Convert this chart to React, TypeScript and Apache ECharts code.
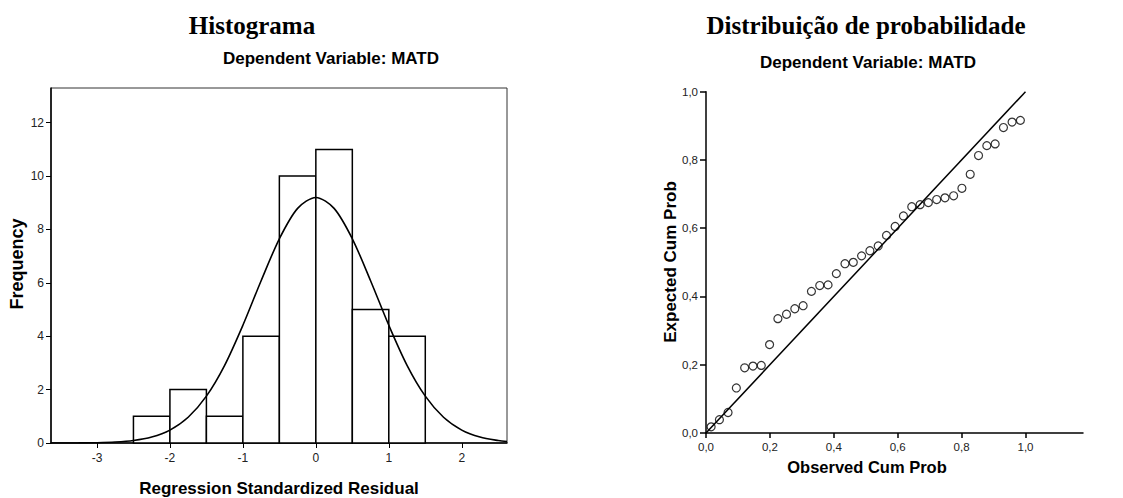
import React, { useEffect, useRef } from "react";
import * as echarts from "echarts";

// ---- Histogram data ----
const binStarts = [-2.5, -2, -1.5, -1, -0.5, 0, 0.5, 1];
const binWidth = 0.5;
const frequencies = [1, 2, 1, 4, 10, 11, 5, 4];
const histXTicks = [-3, -2, -1, 0, 1, 2];
const histYTicks = [0, 2, 4, 6, 8, 10, 12];
// normal curve
const curveX = [-3.63, -3.5, -3.25, -3, -2.75, -2.5, -2.25, -2, -1.75, -1.5, -1.25, -1, -0.75, -0.5, -0.25, 0, 0.25, 0.5, 0.75, 1, 1.25, 1.5, 1.75, 2, 2.25, 2.5, 2.62];
const curveY = [0.0006, 0.001, 0.004, 0.012, 0.035, 0.092, 0.221, 0.484, 0.965, 1.755, 2.91, 4.41, 6.08, 7.65, 8.79, 9.2, 8.79, 7.65, 6.08, 4.41, 2.91, 1.755, 0.965, 0.484, 0.221, 0.092, 0.059];

// ---- P-P plot data ----
const observedCumProb = [0.016, 0.042, 0.069, 0.095, 0.121, 0.147, 0.173, 0.199, 0.225, 0.252, 0.278, 0.304, 0.33, 0.356, 0.382, 0.408, 0.435, 0.461, 0.487, 0.513, 0.539, 0.565, 0.592, 0.618, 0.644, 0.67, 0.696, 0.722, 0.748, 0.775, 0.801, 0.827, 0.853, 0.879, 0.905, 0.931, 0.958, 0.984];
const expectedCumProb = [0.018, 0.039, 0.06, 0.132, 0.191, 0.196, 0.198, 0.259, 0.335, 0.348, 0.364, 0.373, 0.415, 0.432, 0.434, 0.467, 0.496, 0.5, 0.519, 0.534, 0.548, 0.579, 0.605, 0.636, 0.663, 0.669, 0.675, 0.684, 0.689, 0.695, 0.717, 0.758, 0.813, 0.842, 0.847, 0.895, 0.911, 0.916];
const ppTicks = [0, 0.2, 0.4, 0.6, 0.8, 1.0];
const refLine = [[0, 0], [1, 1]];

const SANS = "'Liberation Sans', Arial, sans-serif";
const SERIF = "'Liberation Serif', 'Times New Roman', serif";

export default function App() {
  const ref = useRef<HTMLDivElement>(null);
  useEffect(() => {
    document.body.style.margin = "0";
    const chart = echarts.init(ref.current!, null, { renderer: "svg" });
    const comma = (v: number) => v.toFixed(1).replace(".", ",");
    const axisLineStyle = { color: "#000", width: 1.5 };
    const option: any = {
      animation: false,
      backgroundColor: "#fff",
      grid: [
        { left: 51, top: 88, width: 456, height: 355, show: true, borderColor: "#333", borderWidth: 1, backgroundColor: "transparent" },
        { left: 706, top: 91.7, width: 377, height: 341.3 },
      ],
      xAxis: [
        {
          gridIndex: 0, type: "value", min: -3.63, max: 2.62,
          axisLine: { show: true, onZero: false, lineStyle: axisLineStyle },
          axisTick: { show: true, length: 5, customValues: histXTicks, lineStyle: { color: "#000" } },
          axisLabel: { customValues: histXTicks, fontFamily: SANS, fontSize: 12, color: "#222", margin: 9 },
          splitLine: { show: false },
        },
        {
          gridIndex: 1, type: "value", min: 0, max: 1.18,
          axisLine: { show: true, onZero: false, lineStyle: axisLineStyle },
          axisTick: { show: true, length: 5, customValues: ppTicks, lineStyle: { color: "#000", width: 1.5 } },
          axisLabel: { customValues: ppTicks, formatter: comma, fontFamily: SANS, fontSize: 11.5, color: "#222", margin: 8 },
          splitLine: { show: false },
        },
      ],
      yAxis: [
        {
          gridIndex: 0, type: "value", min: 0, max: 13.3,
          axisLine: { show: true, onZero: false, lineStyle: axisLineStyle },
          axisTick: { show: true, length: 5, customValues: histYTicks, lineStyle: { color: "#000" } },
          axisLabel: { customValues: histYTicks, fontFamily: SANS, fontSize: 12, color: "#222", margin: 7 },
          splitLine: { show: false },
        },
        {
          gridIndex: 1, type: "value", min: 0, max: 1,
          axisLine: { show: true, onZero: false, lineStyle: axisLineStyle },
          axisTick: { show: true, length: 6, customValues: ppTicks, lineStyle: { color: "#000", width: 1.5 } },
          axisLabel: { customValues: ppTicks, formatter: comma, fontFamily: SANS, fontSize: 11.5, color: "#222", margin: 8 },
          splitLine: { show: false },
        },
      ],
      series: [
        {
          type: "custom",
          xAxisIndex: 0, yAxisIndex: 0,
          data: binStarts.map((s, i) => [s, s + binWidth, frequencies[i]]),
          encode: { x: [0, 1], y: 2 },
          renderItem: (_p: any, api: any) => {
            const a = api.coord([api.value(0), api.value(2)]);
            const b = api.coord([api.value(1), 0]);
            return {
              type: "rect",
              shape: { x: a[0], y: a[1], width: b[0] - a[0], height: b[1] - a[1] },
              style: { fill: "#fff", stroke: "#000", lineWidth: 1.5 },
            };
          },
          z: 2,
        },
        {
          type: "line",
          xAxisIndex: 0, yAxisIndex: 0,
          data: curveX.map((x, i) => [x, curveY[i]]),
          smooth: 0.3,
          symbol: "none",
          lineStyle: { color: "#000", width: 1.6 },
          z: 3,
        },
        {
          type: "line",
          xAxisIndex: 1, yAxisIndex: 1,
          data: refLine,
          symbol: "none",
          lineStyle: { color: "#000", width: 1.5 },
          z: 2,
        },
        {
          type: "scatter",
          xAxisIndex: 1, yAxisIndex: 1,
          data: observedCumProb.map((x, i) => [x, expectedCumProb[i]]),
          symbol: "circle",
          symbolSize: 8,
          itemStyle: { color: "rgba(0,0,0,0)", borderColor: "#000", borderWidth: 1.2 },
          z: 3,
        },
      ],
      graphic: [
        { type: "text", x: 252, y: 25, style: { text: "Histograma", font: `bold 25px ${SERIF}`, fill: "#000", align: "center", verticalAlign: "middle" } },
        { type: "text", x: 331, y: 58, style: { text: "Dependent Variable: MATD", font: `bold 17px ${SANS}`, fill: "#000", align: "center", verticalAlign: "middle" } },
        { type: "text", x: 17, y: 264, rotation: Math.PI / 2, style: { text: "Frequency", font: `bold 18px ${SANS}`, fill: "#000", align: "center", verticalAlign: "middle" } },
        { type: "text", x: 279, y: 488, style: { text: "Regression Standardized Residual", font: `bold 17px ${SANS}`, fill: "#000", align: "center", verticalAlign: "middle" } },
        { type: "text", x: 866, y: 25, style: { text: "Distribuição de probabilidade", font: `bold 25px ${SERIF}`, fill: "#000", align: "center", verticalAlign: "middle" } },
        { type: "text", x: 868, y: 62, style: { text: "Dependent Variable: MATD", font: `bold 17px ${SANS}`, fill: "#000", align: "center", verticalAlign: "middle" } },
        { type: "text", x: 670, y: 262, rotation: Math.PI / 2, style: { text: "Expected Cum Prob", font: `bold 17px ${SANS}`, fill: "#000", align: "center", verticalAlign: "middle" } },
        { type: "text", x: 867, y: 467, style: { text: "Observed Cum Prob", font: `bold 16.5px ${SANS}`, fill: "#000", align: "center", verticalAlign: "middle" } },
      ],
    };
    chart.setOption(option);
    return () => chart.dispose();
  }, []);
  return <div ref={ref} style={{ width: 1123, height: 498 }} />;
}
